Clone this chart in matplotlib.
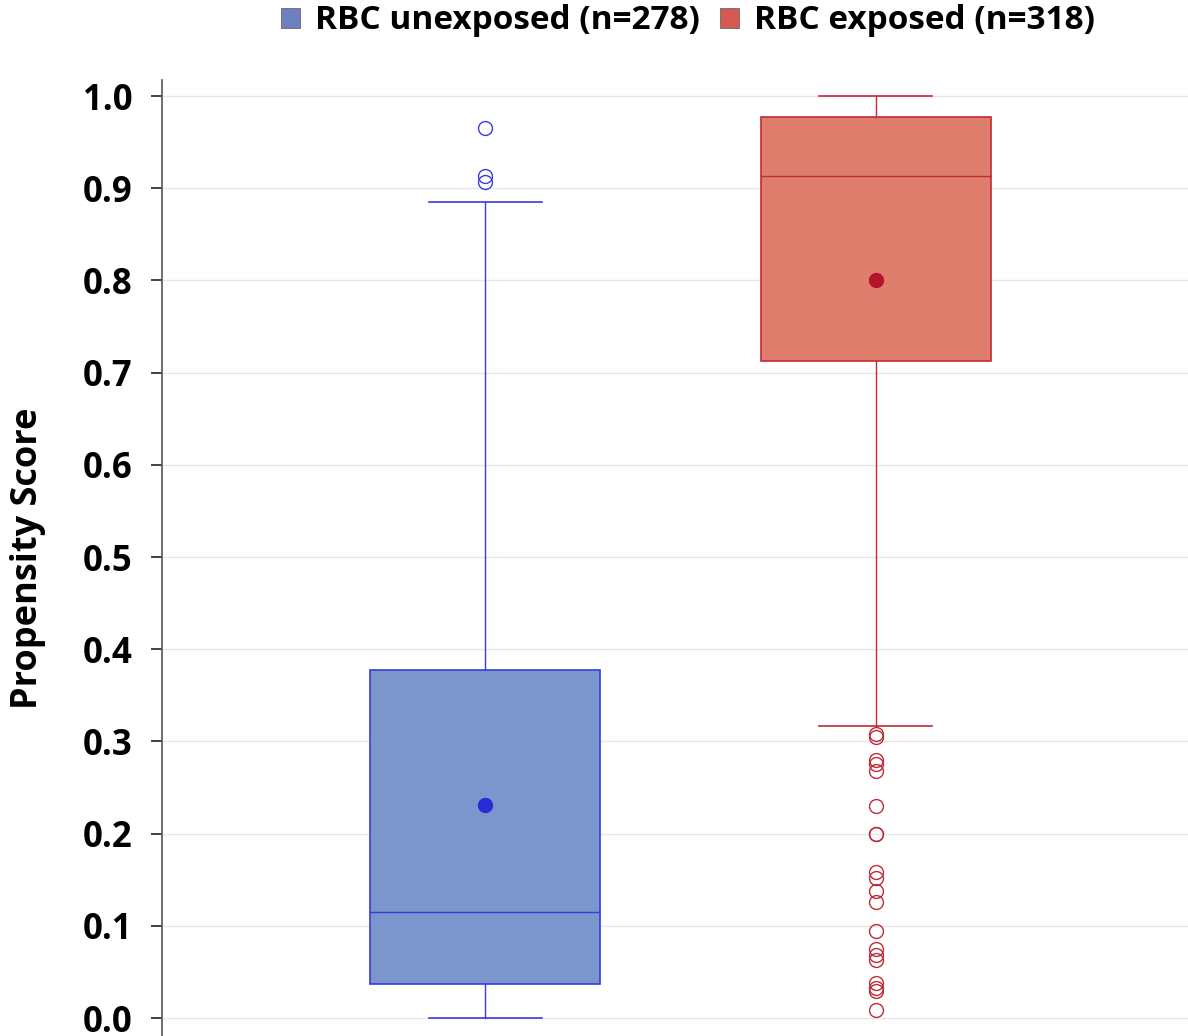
import matplotlib.pyplot as plt
from matplotlib.patches import Patch

plt.rcParams['font.family'] = ['Open Sans', 'DejaVu Sans']

# groups and box statistics
groups = ["RBC unexposed (n=278)", "RBC exposed (n=318)"]
whislo = [0.0, 0.317]
q1 = [0.037, 0.713]
med = [0.115, 0.913]
q3 = [0.377, 0.977]
whishi = [0.885, 1.0]
means = [0.231, 0.800]
fliers = [
    [0.965, 0.913, 0.907],
    [0.308, 0.305, 0.280, 0.276, 0.268, 0.230, 0.200, 0.200, 0.158, 0.152,
     0.138, 0.126, 0.094, 0.075, 0.068, 0.063, 0.038, 0.033, 0.029, 0.009],
]

face = ["#7b96cc", "#e07e6e"]
edge = ["#3a3adf", "#c22a3a"]
mean_col = ["#2a2ad8", "#b3162c"]
legend_col = ["#6f80c0", "#d45a52"]

fig = plt.figure(figsize=(11.88, 10.36), dpi=100)
ax = fig.add_axes([162 / 1188, 0.0, 1 - 162 / 1188, 1 - 80 / 1036])

for i in range(2):
    stats = [dict(whislo=whislo[i], q1=q1[i], med=med[i], q3=q3[i],
                  whishi=whishi[i], mean=means[i], fliers=fliers[i])]
    ax.bxp(stats, positions=[i + 1], widths=0.59, patch_artist=True,
           showmeans=True, manage_ticks=False,
           boxprops=dict(facecolor=face[i], edgecolor=edge[i], linewidth=1.2),
           medianprops=dict(color=edge[i], linewidth=1.0),
           whiskerprops=dict(color=edge[i], linewidth=1.0),
           capprops=dict(color=edge[i], linewidth=1.2),
           capwidths=0.29,
           flierprops=dict(marker='o', markerfacecolor='none',
                           markeredgecolor=edge[i], markersize=10,
                           markeredgewidth=1.0),
           meanprops=dict(marker='o', markerfacecolor=mean_col[i],
                          markeredgecolor=mean_col[i], markersize=10))

ax.set_xlim(0.172, 2.80)
ax.set_ylim(-0.0195, 1.0174)
ax.set_yticks([i / 10 for i in range(11)])
ax.set_yticklabels([f"{i / 10:.1f}" for i in range(11)], fontsize=25, fontweight='bold')
ax.set_xticks([])
ax.yaxis.grid(True, color='#e6e6e6', linewidth=1.0)
ax.set_axisbelow(True)
for s in ['top', 'right', 'bottom']:
    ax.spines[s].set_visible(False)
ax.spines['left'].set_color('#555555')
ax.spines['left'].set_linewidth(1.2)
ax.tick_params(axis='y', length=8, width=1.2, color='#222222', pad=13)
ax.set_ylabel("Propensity Score", fontsize=26, fontweight='bold', labelpad=27)

handles = [Patch(facecolor=legend_col[i], edgecolor='#6a6a6a', linewidth=0.6, label=groups[i])
           for i in range(2)]
fig.legend(handles=handles, loc='center', bbox_to_anchor=(688 / 1188, 1 - 21 / 1036),
           ncol=2, frameon=False, prop=dict(size=24, weight='bold'),
           handlelength=0.55, handleheight=0.55, handletextpad=0.45, columnspacing=0.62)

fig.savefig("out.png", dpi=100)
